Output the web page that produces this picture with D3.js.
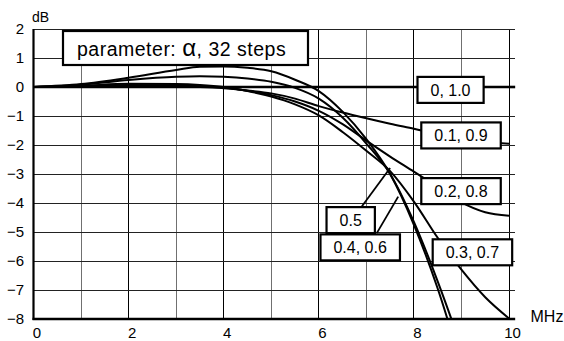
<!DOCTYPE html>
<html>
<head>
<meta charset="utf-8">
<script src="https://cdn.jsdelivr.net/npm/d3@7"></script>
<style>
  body { margin: 0; background: #fff; }
  svg { display: block; font-family: "Liberation Sans", Arial, sans-serif; }
</style>
</head>
<body>
<div id="chart"></div>
<script>
// frequency grid (MHz) shared by all curves
const freq = [0, 1, 2, 3, 3.5, 4, 4.5, 5, 5.5, 6, 6.5, 7, 7.5, 8, 8.5, 9, 9.5, 10];

// gain in dB per alpha pair
const g00 = [0, 0, 0, 0, 0, 0, 0, 0, 0, 0, 0, 0, 0, 0, 0, 0, 0, 0];
const g01 = [0, 0.01, 0.03, 0.02, 0, -0.04, -0.12, -0.22, -0.4, -0.66, -0.88, -1.08, -1.27, -1.44, -1.62, -1.77, -1.9, -1.96];
const g02 = [0, 0.03, 0.07, 0.06, 0.03, -0.03, -0.13, -0.28, -0.5, -0.82, -1.28, -1.85, -2.4, -2.92, -3.45, -3.98, -4.32, -4.44];
const g03 = [0, 0.04, 0.11, 0.1, 0.07, 0, -0.14, -0.33, -0.6, -0.98, -1.55, -2.2, -2.9, -3.95, -5.2, -6.3, -7.25, -7.98];
const g04 = [0, 0.08, 0.24, 0.35, 0.37, 0.35, 0.29, 0.18, -0.03, -0.4, -1.05, -1.95, -3.0, -4.65, -6.7, -9.0, -11.5, -14];
const g05 = [0, 0.1, 0.32, 0.59, 0.7, 0.71, 0.66, 0.54, 0.25, -0.14, -0.85, -1.8, -3.0, -4.75, -6.95, -9.6, -12.5, -15];

const series = [g00, g01, g02, g03, g04, g05];

const xTicks = [0, 2, 4, 6, 8, 10];
const yTicks = [2, 1, 0, -1, -2, -3, -4, -5, -6, -7, -8];

// label boxes: text, centre (MHz, dB)
const boxText = ["0, 1.0", "0.1, 0.9", "0.2, 0.8", "0.5", "0.4, 0.6", "0.3, 0.7"];
const boxX = [8.77, 8.99, 8.99, 6.67, 6.87, 9.23];
const boxY = [-0.1, -1.67, -3.59, -4.59, -5.53, -5.7];

// leader lines for 0.5 and 0.4/0.6 : [x1, y1, x2, y2] in MHz / dB
const leaders = [[6.9, -4.13, 7.5, -2.79], [7.22, -5.04, 7.67, -3.78]];

var width = 564, height = 341;

var svg = d3.select("#chart").append("svg")
    .attr("width", width)
    .attr("height", height);

var x = d3.scaleLinear().domain([0, 10]).range([33.5, 509]);
var y = d3.scaleLinear().domain([-8, 2]).range([319, 29]);

// grid
var grid = svg.append("g").attr("shape-rendering", "crispEdges");
grid.selectAll(".vg")
    .data(d3.range(1, 11))
    .enter().append("line")
    .attr("x1", d => x(d)).attr("x2", d => x(d))
    .attr("y1", y(2)).attr("y2", y(-8))
    .attr("stroke", d => d % 2 ? "#707070" : "#000")
    .attr("stroke-width", 1);
grid.selectAll(".hg")
    .data(d3.range(-7, 3))
    .enter().append("line")
    .attr("x1", x(0)).attr("x2", x(10.13))
    .attr("y1", d => y(d)).attr("y2", d => y(d))
    .attr("stroke", "#222")
    .attr("stroke-width", 1);

// curves
svg.append("clipPath").attr("id", "clip")
    .append("rect")
    .attr("x", x(0)).attr("y", y(2))
    .attr("width", x(10) - x(0) + 2).attr("height", y(-8) - y(2));

var line = d3.line()
    .x((d, i) => x(freq[i]))
    .y(d => y(d))
    .curve(d3.curveMonotoneX);

svg.append("g").attr("clip-path", "url(#clip)")
    .selectAll("path")
    .data(series)
    .enter().append("path")
    .attr("d", line)
    .attr("fill", "none")
    .attr("stroke", "#000")
    .attr("stroke-width", (d, i) => i == 0 ? 2.6 : 2);

// flat curve goes a little past the last grid line
svg.append("line")
    .attr("x1", x(10)).attr("x2", x(10.13))
    .attr("y1", y(0)).attr("y2", y(0))
    .attr("stroke", "#000").attr("stroke-width", 2.6);

// leaders
svg.selectAll(".leader")
    .data(leaders)
    .enter().append("line")
    .attr("x1", d => x(d[0])).attr("y1", d => y(d[1]))
    .attr("x2", d => x(d[2])).attr("y2", d => y(d[3]))
    .attr("stroke", "#000").attr("stroke-width", 1.8);

// label boxes
var boxes = svg.selectAll(".box")
    .data(boxText)
    .enter().append("g");
boxes.append("text")
    .attr("x", (d, i) => x(boxX[i]))
    .attr("y", (d, i) => y(boxY[i]) + 5.8)
    .attr("text-anchor", "middle")
    .attr("font-size", "16px")
    .attr("fill", "#000")
    .text(d => d);
boxes.each(function () {
    var g = d3.select(this);
    var bb = g.select("text").node().getBBox();
    var cx = bb.x + bb.width / 2;
    var cy = +g.select("text").attr("y") - 5.8;
    var w = bb.width + 26;
    g.insert("rect", "text")
        .attr("x", cx - w / 2).attr("y", cy - 13)
        .attr("width", w).attr("height", 26)
        .attr("fill", "#fff")
        .attr("stroke", "#000")
        .attr("stroke-width", 2.2);
});

// parameter box
svg.append("rect")
    .attr("x", 63).attr("y", 31)
    .attr("width", 245).attr("height", 34)
    .attr("fill", "#fff").attr("stroke", "#000").attr("stroke-width", 2.2);
var ptxt = svg.append("text")
    .attr("x", 77).attr("y", 55.5)
    .attr("font-size", "19.5px")
    .attr("letter-spacing", "0.5px");
ptxt.append("tspan").text("parameter: ");
ptxt.append("tspan").attr("font-size", "24px").text("\u03B1");
ptxt.append("tspan").text(", 32 steps");

// axes lines
svg.append("line")
    .attr("x1", x(0)).attr("x2", x(0))
    .attr("y1", y(2)).attr("y2", y(-8) + 1)
    .attr("stroke", "#000").attr("stroke-width", 2.2);
svg.append("line")
    .attr("x1", x(0) - 1).attr("x2", x(10.13))
    .attr("y1", y(-8)).attr("y2", y(-8))
    .attr("stroke", "#000").attr("stroke-width", 2.5);

// tick labels
svg.selectAll(".yt")
    .data(yTicks)
    .enter().append("text")
    .attr("x", 24)
    .attr("y", d => y(d) + 5.4)
    .attr("text-anchor", "end")
    .attr("font-size", "15px")
    .text(d => d < 0 ? "\u2212" + (-d) : d);
svg.selectAll(".xt")
    .data(xTicks)
    .enter().append("text")
    .attr("x", d => x(d) + 3.5)
    .attr("y", 338)
    .attr("text-anchor", "middle")
    .attr("font-size", "15px")
    .text(d => d);

svg.append("text").attr("x", 32).attr("y", 21.5)
    .attr("font-size", "14px").text("dB");
svg.append("text").attr("x", 530.5).attr("y", 321.5)
    .attr("font-size", "16px").text("MHz");
</script>
</body>
</html>
